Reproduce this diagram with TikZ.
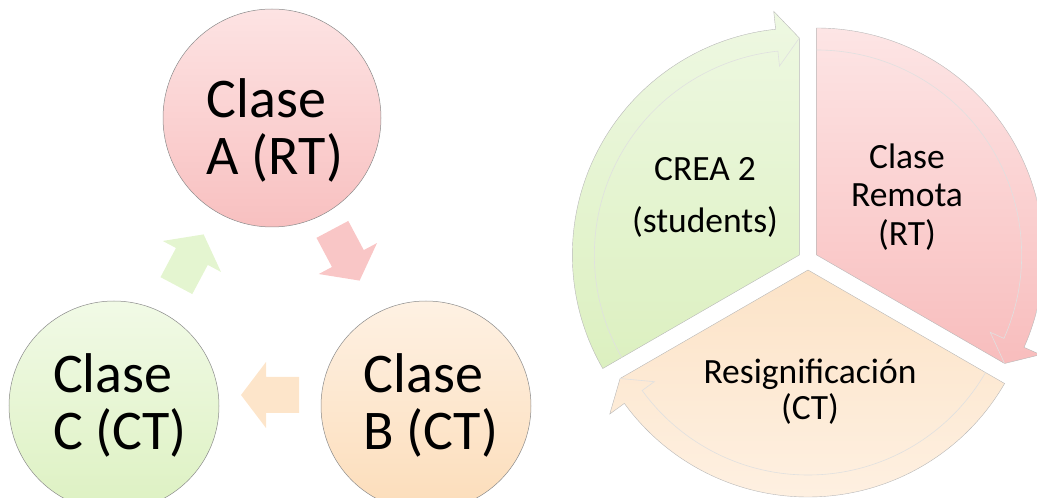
\documentclass[tikz,border=0pt]{standalone}
\usepackage{fontspec}
\setmainfont{Carlito}
\usetikzlibrary{calc}
\definecolor{redTop}{HTML}{FDE3E3}
\definecolor{redBot}{HTML}{F8C0C0}
\definecolor{grnTop}{HTML}{F1FAE6}
\definecolor{grnBot}{HTML}{DDF1C2}
\definecolor{orgTop}{HTML}{FEF1E3}
\definecolor{orgBot}{HTML}{FCDDBA}
\definecolor{redArr}{HTML}{F9C6C6}
\definecolor{grnArr}{HTML}{E4F5D0}
\definecolor{orgArr}{HTML}{FDE5CA}
\definecolor{segGrnTop}{HTML}{EEF8E2}
\definecolor{segGrnBot}{HTML}{DCF0C0}
\definecolor{segRedTop}{HTML}{FDE5E5}
\definecolor{segRedBot}{HTML}{F8BDBD}
\definecolor{segOrgTop}{HTML}{FCE3C7}
\definecolor{segOrgBot}{HTML}{FEF0E1}
\newcommand\myblockarrow[3]{%
  \path[fill=#3, shift={(#1)}, rotate=#2]
    (-29,-18) -- (4,-18) -- (4,-33) -- (29,0) -- (4,33) -- (4,18) -- (-29,18) -- cycle;}
\newcommand\mysegment[5]{% apex, a1, a2, a2+6, style
  \path[#5] (#1) -- ++(#2:227pt)
     arc[start angle=#2, end angle=#4, radius=227pt]
     -- ($(#1)+(#4:245pt)$) -- ($(#1)+(#3:217pt)$) -- cycle;
  \draw[bandline] ($(#1)+(#2:205pt)$)
     arc[start angle=#2, end angle=#4, radius=205pt]
     -- ($(#1)+(#4:190pt)$) -- ($(#1)+(#3:217pt)$);}
\begin{document}
\begin{tikzpicture}[x=1pt,y=1pt]
\tikzset{
  bigcircle/.style={circle, draw=black!45, line width=0.5pt, minimum size=#1, inner sep=0pt},
  bigtext/.style={align=left, inner sep=0pt, font=\fontsize{56}{57}\selectfont},
  segtext/.style={align=center, inner sep=0pt, font=\fontsize{35.5}{#1}\selectfont},
  bandline/.style={draw=black!12, line width=0.6pt},
  segedge/.style={draw=black!28, line width=0.4pt}
}
\useasboundingbox (0,0) rectangle (1037,498);
% left cycle
\node[bigcircle=218pt, top color=redTop, bottom color=redBot] (A) at (272,380) {};
\node[bigcircle=210pt, top color=orgTop, bottom color=orgBot] (B) at (426,92) {};
\node[bigcircle=210pt, top color=grnTop, bottom color=grnBot] (C) at (114,92) {};
\node[bigtext] (At) at ($(A)+(3,-12)$) {Clase\\A (RT)};
\node[bigtext] (Bt) at ($(B)+(5,1)$) {Clase\\B (CT)};
\node[bigtext] (Ct) at ($(C)+(6,1)$) {Clase\\C (CT)};
\coordinate (ab) at ($(A)!0.5!(B)+(-3,7)$);
\coordinate (bc) at ($(B)!0.5!(C)+(0,11)$);
\coordinate (ca) at ($(C)!0.5!(A)+(-3,2)$);
\myblockarrow{ab}{-62}{redArr}
\myblockarrow{bc}{180}{orgArr}
\myblockarrow{ca}{62}{grnArr}
% right segmented cycle
\coordinate (O) at (808,238);
\coordinate (Pg) at ($(O)+(150:10pt)$);
\coordinate (Pr) at ($(O)+(30:10pt)$);
\coordinate (Po) at ($(O)+(-90:10pt)$);
\mysegment{Pg}{210}{90}{96}{segedge, top color=segGrnTop, bottom color=segGrnBot}
\mysegment{Pr}{90}{-30}{-24}{segedge, top color=segRedTop, bottom color=segRedBot}
\mysegment{Po}{-30}{-150}{-144}{segedge, top color=segOrgTop, bottom color=segOrgBot}
\node[segtext=52] (g) at (705,301) {CREA 2\\(students)};
\node[segtext=38.5] (r) at (907,301) {Clase\\Remota\\(RT)};
\node[segtext=36] (o) at (810,106) {Resignificación\\(CT)};
\end{tikzpicture}
\end{document}
